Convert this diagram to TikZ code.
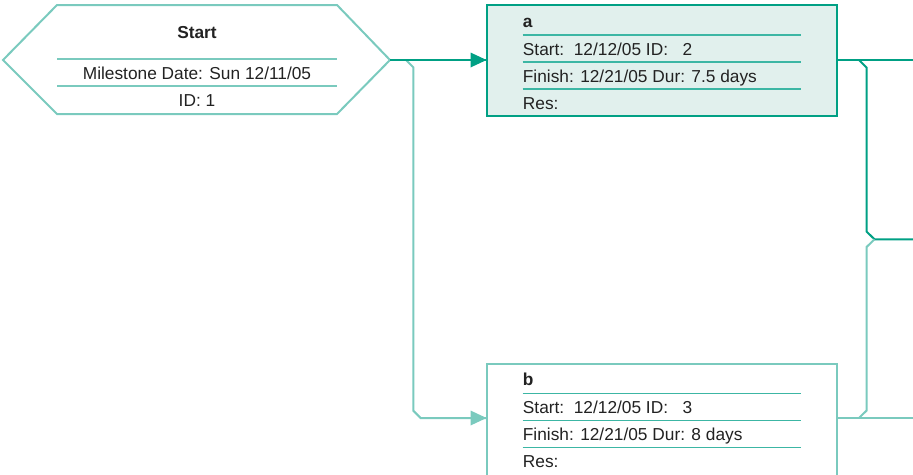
\documentclass[tikz,border=0pt]{standalone}
\usepackage{fontspec}
\setmainfont{Liberation Sans}
\usetikzlibrary{arrows.meta}
\definecolor{tdark}{RGB}{0,160,132}
\definecolor{tlight}{RGB}{122,202,190}
\definecolor{tmid}{RGB}{60,182,164}
\definecolor{tfill}{RGB}{225,240,237}
\definecolor{txt}{RGB}{34,34,34}
\begin{document}
\begin{tikzpicture}[x=1pt,y=-1pt,
  darkline/.style={draw=tdark,line width=2pt},
  lightline/.style={draw=tlight,line width=2pt},
  boxA/.style={draw=tdark,fill=tfill,line width=2pt,minimum width=350pt,minimum height=111pt,inner sep=0pt},
  boxB/.style={draw=tlight,fill=white,line width=2pt,minimum width=350pt,minimum height=112pt,inner sep=0pt},
  lbl/.style={inner sep=0pt,text=txt,font=\fontsize{17.3}{20}\selectfont},
  blbl/.style={lbl,font=\fontsize{17.3}{20}\selectfont\bfseries},
  bigtip/.style={-{Triangle[length=16pt,width=15pt]}}
]
\useasboundingbox (0,0) rectangle (913,474);
% Start milestone hexagon
\draw[lightline,line join=miter] (3,60) -- (57,5) -- (337,5) -- (390,60) -- (337,114) -- (57,114) -- cycle;
\coordinate (startR) at (390,60);
\draw[draw=tlight,line width=1.5pt] (57,59) -- (337,59);
\draw[draw=tlight,line width=1.5pt] (57,86) -- (337,86);
\node[blbl,anchor=base] (sT) at (197,38.3) {Start};
\node[lbl,anchor=base] (sM) at (197,79) {Milestone Date: Sun 12/11/05};
\node[lbl,anchor=base] (sI) at (197,106) {ID: 1};
% Box a
\node[boxA] (a) at (661.5,60.5) {};
\draw[draw=tmid,line width=1.5pt] (522.7,35) -- (800.7,35);
\draw[draw=tmid,line width=1.5pt] (522.7,62) -- (800.7,62);
\draw[draw=tmid,line width=1.5pt] (522.7,89) -- (800.7,89);
\node[blbl,anchor=base west] (aT) at (522.7,27.7) {a};
\node[lbl,anchor=base west] (a1) at (522.7,55) {Start:\ \ 12/12/05 ID:\ \ \ 2};
\node[lbl,anchor=base west] (a2) at (522.7,82.3) {Finish: 12/21/05 Dur: 7.5 days};
\node[lbl,anchor=base west] (a3) at (522.7,109) {Res:};
% Box b
\node[boxB] (b) at (661.5,420) {};
\draw[draw=tmid,line width=1.5pt] (522.7,393.3) -- (800.7,393.3);
\draw[draw=tmid,line width=1.5pt] (522.7,420.7) -- (800.7,420.7);
\draw[draw=tmid,line width=1.5pt] (522.7,447.7) -- (800.7,447.7);
\node[blbl,anchor=base west] (bT) at (522.7,385.7) {b};
\node[lbl,anchor=base west] (b1) at (522.7,413.3) {Start:\ \ 12/12/05 ID:\ \ \ 3};
\node[lbl,anchor=base west] (b2) at (522.7,440.7) {Finish: 12/21/05 Dur: 8 days};
\node[lbl,anchor=base west] (b3) at (522.7,467.7) {Res:};
% connector coordinates
\coordinate (s1) at (406,60);
\coordinate (s2) at (413.3,67.3);
\coordinate (s3) at (413.3,410.7);
\coordinate (s4) at (420.6,418);
\coordinate (bin) at (486.5,418);
\coordinate (ain) at (486.5,60);
\coordinate (aR) at (837,60);
\coordinate (bR) at (837,418);
\coordinate (e1) at (913,60);
\coordinate (e2) at (913,239.3);
\coordinate (e3) at (913,418);
\coordinate (r1) at (859,60);
\coordinate (r2) at (866.7,67.7);
\coordinate (r3) at (866.7,231.7);
\coordinate (m) at (874.5,239.3);
\coordinate (r4) at (866.7,246.9);
\coordinate (r5) at (866.7,410.4);
\coordinate (r6) at (859,418);
% connectors
\draw[lightline] (s1) -- (s2) -- (s3) -- (s4) -- (bin);
\draw[darkline] (startR) -- (ain);
\fill[tdark] (ain) -- ++(-16,-7.5) -- ++(0,15) -- cycle;
\fill[tlight] (bin) -- ++(-16,-7.5) -- ++(0,15) -- cycle;
\draw[darkline] (aR) -- (e1);
\draw[darkline] (r1) -- (r2) -- (r3) -- (m) -- (e2);
\draw[lightline] (bR) -- (e3);
\draw[lightline] (r6) -- (r5) -- (r4) -- (m);
\end{tikzpicture}
\end{document}
